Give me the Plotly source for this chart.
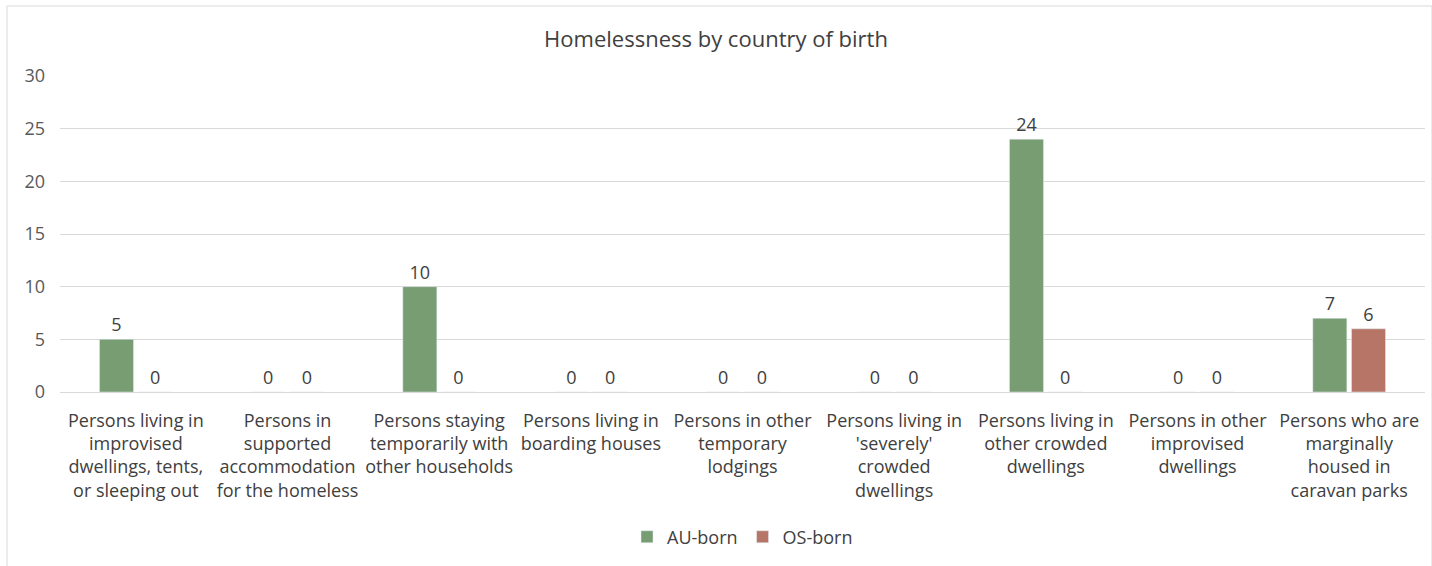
import plotly.graph_objects as go

categories = [
    "Persons living in<br>improvised<br>dwellings, tents,<br>or sleeping out",
    "Persons in<br>supported<br>accommodation<br>for the homeless",
    "Persons staying<br>temporarily with<br>other households",
    "Persons living in<br>boarding houses",
    "Persons in other<br>temporary<br>lodgings",
    "Persons living in<br>'severely'<br>crowded<br>dwellings",
    "Persons living in<br>other crowded<br>dwellings",
    "Persons in other<br>improvised<br>dwellings",
    "Persons who are<br>marginally<br>housed in<br>caravan parks",
]
au_born = [5, 0, 10, 0, 0, 0, 24, 0, 7]
os_born = [0, 0, 0, 0, 0, 0, 0, 0, 6]
y_ticks = [0, 5, 10, 15, 20, 25, 30]

FONT = "Open Sans"
TXT = "#404040"

fig = go.Figure()
fig.add_trace(go.Bar(name="AU-born", x=categories, y=au_born, marker_color="#789D72",
                     text=au_born, textposition="outside", cliponaxis=False,
                     textfont=dict(size=18, color=TXT, family=FONT)))
fig.add_trace(go.Bar(name="OS-born", x=categories, y=os_born, marker_color="#B77568",
                     text=os_born, textposition="outside", cliponaxis=False,
                     textfont=dict(size=18, color=TXT, family=FONT)))

fig.update_layout(
    width=1432, height=566,
    margin=dict(l=60, r=7, t=76, b=174),
    paper_bgcolor="white", plot_bgcolor="white",
    barmode="group", bargap=0.49, bargroupgap=0.12,
    font=dict(family=FONT, color=TXT, size=17),
    title=dict(text="Homelessness by country of birth", x=0.5, xanchor="center",
               y=0.931, yanchor="middle", font=dict(size=22, color=TXT, family=FONT)),
    legend=dict(orientation="h", x=0.5, xanchor="center", y=-0.459, yanchor="middle",
                font=dict(size=18, color=TXT, family=FONT), itemwidth=30,
                traceorder="normal"),
)
fig.update_yaxes(range=[0, 30], tickvals=y_ticks, gridcolor="#D9D9D9", gridwidth=1,
                 zeroline=False, showline=False, ticks="",
                 tickfont=dict(size=18, color="#595959", family=FONT), ticklabelstandoff=14)
fig.update_xaxes(showline=True, linecolor="#D9D9D9", ticks="", tickangle=0,
                 ticklabelstandoff=12,
                 tickfont=dict(size=18, color=TXT, family=FONT))
fig.add_shape(type="rect", xref="paper", yref="paper",
              x0=-0.0388, x1=1.0051, y0=-0.7, y1=1.2215,
              line=dict(color="#D9D9D9", width=1), fillcolor="rgba(0,0,0,0)", layer="below")

fig.write_html("out.html", config={"displayModeBar": False},
               post_script="document.body.style.margin='0';")
